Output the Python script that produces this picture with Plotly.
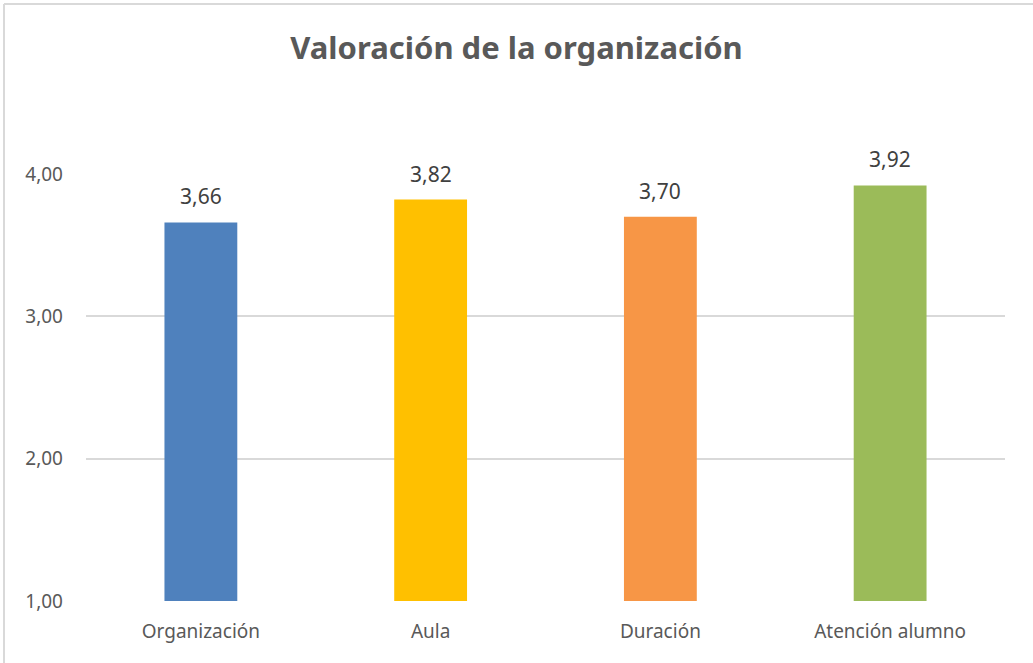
import plotly.graph_objects as go

categories = ["Organización", "Aula", "Duración", "Atención alumno"]
values = [3.66, 3.82, 3.70, 3.92]
colors = ["#4f81bd", "#ffc000", "#f79646", "#9bbb59"]
y_ticks = [1, 2, 3, 4]
title = "Valoración de la organización"

font_family = "'Noto Sans', 'Open Sans', sans-serif"
txt = "#595959"

W, H = 1033, 663
L, R, T, B = 86, 28, 174, 62
pw, ph = W - L - R, H - T - B


def px_x(x):
    return (x - L) / pw


def px_y(y):
    return (H - B - y) / ph


fig = go.Figure()
fig.add_trace(go.Bar(
    x=categories, y=values,
    marker=dict(color=colors, line=dict(width=0)),
    width=0.317,
    hoverinfo="skip",
))
for c, v in zip(categories, values):
    fig.add_annotation(x=c, y=v, text=f"{v:.2f}".replace(".", ","),
                       showarrow=False, yanchor="bottom", yshift=10,
                       font=dict(family=font_family, size=21, color="#404040"))

border = dict(color="#d9d9d9", width=2)
fig.update_layout(
    width=W, height=H,
    margin=dict(l=L, r=R, t=T, b=B, autoexpand=False),
    paper_bgcolor="white", plot_bgcolor="white",
    showlegend=False,
    separators=",.",
    font=dict(family=font_family, color=txt),
    title=dict(text=f"<b>{title}</b>", x=0.5, xanchor="center",
               y=1 - 48 / H, yanchor="middle",
               font=dict(family=font_family, size=31, color=txt)),
    xaxis=dict(showgrid=False, showline=False, ticks="",
               tickfont=dict(size=19, color=txt), ticklabelstandoff=17),
    yaxis=dict(range=[1, 4], tickvals=y_ticks, tickformat=".2f",
               showgrid=True, gridcolor="#d9d9d9", gridwidth=1.5,
               zeroline=False, showline=False, ticks="",
               tickfont=dict(size=19, color=txt), ticklabelstandoff=22),
    shapes=[
        dict(type="line", xref="paper", yref="paper",
             x0=px_x(4), x1=px_x(1040), y0=px_y(4), y1=px_y(4), line=border),
        dict(type="line", xref="paper", yref="paper",
             x0=px_x(4), x1=px_x(4), y0=px_y(4), y1=px_y(670), line=border),
    ],
)
fig.write_html("out.html", config={"displayModeBar": False},
               post_script="document.body.style.margin='0';")
